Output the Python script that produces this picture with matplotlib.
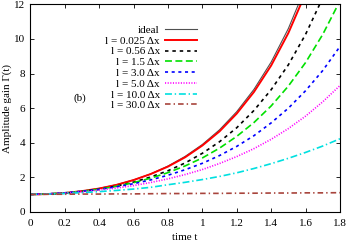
import matplotlib

matplotlib.use("Agg")
import matplotlib.pyplot as plt
import numpy as np

plt.rcParams["font.family"] = ["Liberation Serif", "DejaVu Serif"]
plt.rcParams["lines.scale_dashes"] = False

# time axis, every 0.1
t = np.round(np.arange(0.0, 1.81, 0.1), 2)

ideal = [1.00, 1.02, 1.08, 1.19, 1.35, 1.56, 1.84, 2.19, 2.64, 3.20, 3.89,
         4.74, 5.79, 7.08, 8.66, 10.60, 12.99, 15.90]
l_0025 = [1.00, 1.02, 1.08, 1.19, 1.34, 1.55, 1.83, 2.18, 2.61, 3.15, 3.83,
          4.65, 5.68, 6.93, 8.46, 10.34, 12.64]
l_056 = [1.00, 1.02, 1.07, 1.17, 1.30, 1.48, 1.71, 2.01, 2.37, 2.82, 3.38,
         4.05, 4.86, 5.86, 7.06, 8.50, 10.26, 12.38]
l_15 = [1.00, 1.03, 1.09, 1.18, 1.30, 1.47, 1.68, 1.94, 2.26, 2.65, 3.11,
        3.68, 4.36, 5.16, 6.12, 7.27, 8.63, 10.26, 12.20]
l_30 = [1.00, 1.03, 1.09, 1.18, 1.29, 1.44, 1.62, 1.84, 2.11, 2.43, 2.80,
        3.25, 3.78, 4.40, 5.14, 5.99, 7.00, 8.17, 9.56]
l_50 = [1.00, 1.03, 1.08, 1.15, 1.25, 1.37, 1.51, 1.69, 1.90, 2.15, 2.44,
        2.79, 3.19, 3.65, 4.19, 4.81, 5.53, 6.36, 7.30]
l_100 = [1.00, 1.02, 1.05, 1.10, 1.16, 1.23, 1.31, 1.41, 1.56, 1.70, 1.86,
         2.04, 2.25, 2.50, 2.78, 3.09, 3.43, 3.80, 4.22]
l_300 = [1.00, 1.01, 1.01, 1.02, 1.02, 1.03, 1.03, 1.04, 1.05, 1.05, 1.06,
         1.06, 1.07, 1.07, 1.08, 1.08, 1.09, 1.09, 1.10]

labels = ["ideal", "l = 0.025 Δx", "l = 0.56 Δx", "l = 1.5 Δx",
          "l = 3.0 Δx", "l = 5.0 Δx", "l = 10.0 Δx", "l = 30.0 Δx"]
series = [ideal, l_0025, l_056, l_15, l_30, l_50, l_100, l_300]

styles = [
    dict(color="#505050", lw=0.8, ls="-"),
    dict(color="#ff0000", lw=1.4, ls="-"),
    dict(color="#000000", lw=1.2, ls=(0, (2.5, 2.8))),
    dict(color="#00e000", lw=1.2, ls=(0, (5.0, 2.5))),
    dict(color="#0000ff", lw=1.2, ls=(0, (2.2, 2.6))),
    dict(color="#ff00ff", lw=1.2, ls=(0, (0.8, 1.1))),
    dict(color="#00e0e0", lw=1.2, ls=(0, (5.0, 2.0, 1.0, 2.0))),
    dict(color="#a8443c", lw=1.2, ls=(0, (4.0, 2.2, 1.0, 2.2))),
]

fig = plt.figure(figsize=(3.49, 2.45), dpi=100)
ax = fig.add_axes([0.087, 0.136, 0.887, 0.846])

for vals, lab, st in zip(series, labels, styles):
    ax.plot(t[: len(vals)], vals, label=lab, **st)

ax.set_xlim(0, 1.8)
ax.set_ylim(0, 12)
ax.set_xticks(np.arange(0, 1.81, 0.2))
ax.set_xticklabels(["0", "0.2", "0.4", "0.6", "0.8", "1", "1.2", "1.4", "1.6", "1.8"])
ax.set_yticks(np.arange(0, 13, 2))
ax.tick_params(direction="in", top=True, right=True, length=3, width=0.6,
               labelsize=8)
ax.tick_params(axis="x", pad=5)
for sp in ax.spines.values():
    sp.set_linewidth(0.8)

ax.set_xlabel("time t", fontsize=8, labelpad=4)
ax.set_ylabel("Amplitude gain Γ(t)", fontsize=8, labelpad=2)
ax.text(0.16, 0.548, "(b)", transform=ax.transAxes, fontsize=8,
        ha="center", va="center")

leg = ax.legend(loc="upper right", bbox_to_anchor=(0.537, 0.90),
                frameon=False, markerfirst=False, fontsize=8,
                handlelength=2.8, handletextpad=0.5, labelspacing=0.09,
                borderpad=0, borderaxespad=0)

fig.savefig("out.png", dpi=100)
